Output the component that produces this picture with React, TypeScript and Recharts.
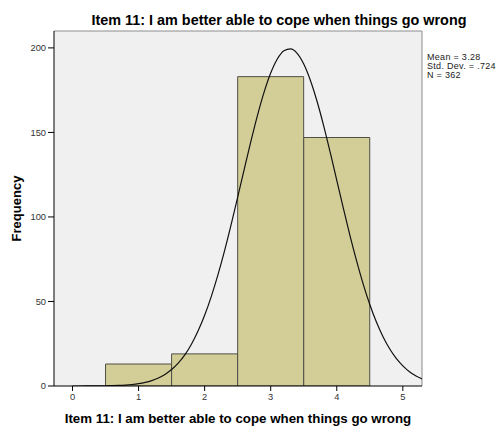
import React from 'react';
import { ComposedChart, Bar, Line, XAxis, YAxis, CartesianGrid, Label } from 'recharts';

const chartTitle = 'Item 11: I am better able to cope when things go wrong';
const xAxisTitle = 'Item 11: I am better able to cope when things go wrong';
const yAxisTitle = 'Frequency';

const binCenters = [1, 2, 3, 4];
const binCounts = [13, 19, 183, 147];

const xTicks = [0, 1, 2, 3, 4, 5];
const yTicks = [0, 50, 100, 150, 200];

const statLines = ['Mean = 3.28', 'Std. Dev. = .724', 'N = 362'];

const curveX = [
  0.0, 0.1, 0.2, 0.3, 0.4, 0.5, 0.6, 0.7, 0.8, 0.9,
  1.0, 1.1, 1.2, 1.3, 1.4, 1.5, 1.6, 1.7, 1.8, 1.9,
  2.0, 2.1, 2.2, 2.3, 2.4, 2.5, 2.6, 2.7, 2.8, 2.9,
  3.0, 3.1, 3.2, 3.3, 3.4, 3.5, 3.6, 3.7, 3.8, 3.9,
  4.0, 4.1, 4.2, 4.3, 4.4, 4.5, 4.6, 4.7, 4.8, 4.9,
  5.0, 5.1, 5.2, 5.3,
];
const curveY = [
  0.007, 0.013, 0.023, 0.042, 0.073, 0.125, 0.211, 0.349, 0.565, 0.899,
  1.4, 2.14, 3.22, 4.74, 6.86, 9.72, 13.5, 18.4, 24.7, 32.5,
  41.8, 52.9, 65.6, 79.8, 95.3, 111.7, 128.3, 144.7, 160.1, 173.8,
  185.1, 193.4, 198.3, 199.4, 196.8, 190.5, 180.9, 168.6, 154.2, 138.3,
  121.7, 105.1, 89.0, 74.0, 60.3, 48.2, 37.8, 29.1, 22.0, 16.3,
  11.9, 8.47, 5.93, 4.07,
];

const barData = binCenters.map((x, i) => ({ x, count: binCounts[i] }));
const lineData = curveX.map((x, i) => ({ x, curve: curveY[i] }));

const X_DOMAIN: [number, number] = [-0.28, 5.29];
const Y_DOMAIN: [number, number] = [0, 210];

const FONT = '"Liberation Sans", Arial, sans-serif';
const tickStyle = { fontSize: 9.3, fill: '#333', fontFamily: FONT };

export default function App() {
  return (
    <div style={{ position: 'absolute', left: 0, top: 0, width: 499, height: 428, background: '#fff' }}>
      <ComposedChart
        width={499}
        height={428}
        data={barData}
        margin={{ top: 31, right: 77, bottom: 0, left: 0 }}
        barCategoryGap={0}
        barGap={0}
      >
        <CartesianGrid fill="#F0F0F0" horizontal={false} vertical={false} />
        <CartesianGrid
          stroke="#8c8c8c"
          strokeWidth={1}
          horizontalValues={[Y_DOMAIN[1]]}
          verticalValues={[X_DOMAIN[1]]}
        />
        <XAxis
          dataKey="x"
          type="number"
          domain={X_DOMAIN}
          ticks={xTicks}
          allowDataOverflow
          height={42}
          axisLine={{ stroke: '#000' }}
          tickLine={{ stroke: '#000' }}
          tickSize={5}
          tick={tickStyle}
        >
          <Label
            value={xAxisTitle}
            position="insideBottom"
            offset={5}
            style={{ fontSize: 13.3, fontWeight: 'bold', fill: '#000', fontFamily: FONT }}
          />
        </XAxis>
        <XAxis
          xAxisId="curve"
          dataKey="x"
          type="number"
          domain={X_DOMAIN}
          allowDataOverflow
          orientation="top"
          height={0}
          hide
        />
        <YAxis
          type="number"
          domain={Y_DOMAIN}
          ticks={yTicks}
          allowDataOverflow
          width={54}
          axisLine={{ stroke: '#000' }}
          tickLine={{ stroke: '#000' }}
          tickSize={6}
          tick={tickStyle}
        >
          <Label
            value={yAxisTitle}
            angle={-90}
            position="insideLeft"
            offset={16}
            style={{ fontSize: 13, fontWeight: 'bold', fill: '#000', fontFamily: FONT, textAnchor: 'middle' }}
          />
        </YAxis>
        <YAxis
          yAxisId="right"
          type="number"
          domain={Y_DOMAIN}
          allowDataOverflow
          orientation="right"
          width={0}
          hide
        />
        <Bar dataKey="count" fill="#D3CE97" stroke="#4F4F45" strokeWidth={1} isAnimationActive={false} />
        <Line
          data={lineData}
          xAxisId="curve"
          yAxisId="right"
          dataKey="curve"
          type="monotone"
          stroke="#111"
          strokeWidth={1.2}
          dot={false}
          activeDot={false}
          isAnimationActive={false}
        />
      </ComposedChart>
      <svg
        width={499}
        height={428}
        style={{ position: 'absolute', left: 0, top: 0, pointerEvents: 'none' }}
      >
        <text x={279} y={24.5} textAnchor="middle" fontFamily={FONT} fontSize={14.4} fontWeight="bold" fill="#000">
          {chartTitle}
        </text>
        {statLines.map((s, i) => (
          <text key={s} x={427} y={59.5 + i * 9.4} fontFamily={FONT} fontSize={9} letterSpacing={0.3} fill="#222">
            {s}
          </text>
        ))}
      </svg>
    </div>
  );
}
